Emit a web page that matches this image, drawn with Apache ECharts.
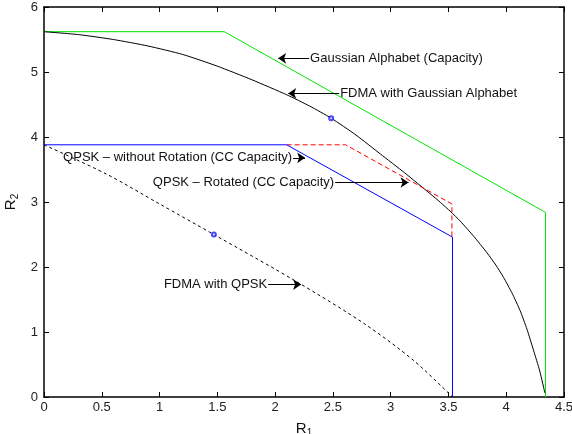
<!DOCTYPE html>
<html>
<head>
<meta charset="utf-8">
<script src="https://cdn.jsdelivr.net/npm/echarts@6/dist/echarts.min.js"></script>
<style>
  html, body { margin: 0; padding: 0; background: #fff; }
  #chart { width: 572px; height: 434px; }
</style>
</head>
<body>
<div id="chart"></div>
<script>
// Rate region boundaries, (R1, R2) pairs
const gaussianCapacity = [[0, 5.62], [1.56, 5.62], [4.34, 2.84], [4.34, 0]];
const fdmaGaussian = [
  [0, 5.62], [0.3, 5.575], [0.6, 5.50], [0.9, 5.40], [1.2, 5.27],
  [1.5, 5.09], [1.8, 4.88], [2.1, 4.65], [2.3, 4.475], [2.485, 4.29],
  [2.7, 4.03], [2.91, 3.74], [3.12, 3.45], [3.34, 3.13], [3.43, 2.995],
  [3.52, 2.85], [3.60, 2.71], [3.72, 2.47], [3.833, 2.22], [3.91, 2.03],
  [3.977, 1.84], [4.05, 1.60], [4.12, 1.33], [4.18, 1.04], [4.236, 0.72],
  [4.29, 0.40], [4.335, 0.06]
];
const qpskNoRotation = [[0, 3.88], [2.10, 3.88], [3.535, 2.46], [3.535, 0]];
const qpskRotated = [[2.10, 3.88], [2.61, 3.88], [3.53, 2.97], [3.53, 2.46]];
const fdmaQpsk = [
  [0, 3.88], [0.54, 3.43], [1.0, 2.97], [1.47, 2.50], [2.19, 1.77],
  [2.77, 1.13], [3.2, 0.56], [3.535, 0]
];
const highlighted = [[2.485, 4.29], [1.47, 2.50]];

// Axis ticks
const xTickLabels = ['0', '0.5', '1', '1.5', '2', '2.5', '3', '3.5', '4', '4.5'];
const yTickLabels = ['0', '1', '2', '3', '4', '5', '6'];

// Callout texts with arrow tail / head in data units
const calloutTexts = [
  'Gaussian Alphabet (Capacity)',
  'FDMA with Gaussian Alphabet',
  'QPSK \u2013 without Rotation (CC Capacity)',
  'QPSK \u2013 Rotated (CC Capacity)',
  'FDMA with QPSK'
];
const calloutTails = [[2.294, 5.21], [2.554, 4.67], [2.156, 3.68], [2.52, 3.30], [1.94, 1.73]];
const calloutHeads = [[2.026, 5.21], [2.113, 4.67], [2.26, 3.68], [3.155, 3.30], [2.225, 1.73]];

const FONT = '"Liberation Sans", Arial, Helvetica, sans-serif';

const chart = echarts.init(document.getElementById('chart'), null, { renderer: 'canvas' });

const frameLine = { show: true, onZero: false, lineStyle: { color: '#000', width: 1.5 } };
const tickStyle = { show: true, inside: true, length: 5, lineStyle: { color: '#000', width: 1 } };

const xLabelFmt = v => xTickLabels[Math.round(v / 0.5)] ?? '';
const yLabelFmt = v => yTickLabels[Math.round(v)] ?? '';

const nameRich = {
  r: { fontSize: 15, fontFamily: FONT, color: '#111', lineHeight: 18 },
  s: { fontSize: 10, fontFamily: FONT, color: '#111', lineHeight: 18, padding: [9, 0, 0, 0] }
};

const plain = (name, data, color, type, smooth) => ({
  name, type: 'line', data, showSymbol: false, symbol: 'none', smooth: smooth || false,
  lineStyle: { color, width: 1, type: type || 'solid' },
  silent: true, z: 3
});

const option = {
  animation: false,
  backgroundColor: '#fff',
  grid: { left: 44, right: 8, top: 7, bottom: 37, containLabel: false, outerBoundsMode: 'none' },
  xAxis: [
    {
      type: 'value', min: 0, max: 4.5, interval: 0.5, position: 'bottom',
      axisLine: frameLine, axisTick: tickStyle, splitLine: { show: false },
      axisLabel: { color: '#222', fontSize: 13, fontFamily: FONT, margin: 4, formatter: xLabelFmt },
      name: '{r|R}{s|1}', nameLocation: 'middle', nameGap: 20,
      nameTextStyle: { rich: nameRich }
    },
    {
      type: 'value', min: 0, max: 4.5, interval: 0.5, position: 'top',
      axisLine: frameLine, axisTick: tickStyle, splitLine: { show: false },
      axisLabel: { show: false }
    }
  ],
  yAxis: [
    {
      type: 'value', min: 0, max: 6, interval: 1, position: 'left',
      axisLine: frameLine, axisTick: tickStyle, splitLine: { show: false },
      axisLabel: { color: '#222', fontSize: 13, fontFamily: FONT, margin: 6, formatter: yLabelFmt },
      name: '{r|R}{s|2}', nameLocation: 'middle', nameGap: 18, nameRotate: 90,
      nameTextStyle: { rich: nameRich }
    },
    {
      type: 'value', min: 0, max: 6, interval: 1, position: 'right',
      axisLine: frameLine, axisTick: tickStyle, splitLine: { show: false },
      axisLabel: { show: false }
    }
  ],
  series: [
    plain('Gaussian Alphabet (Capacity)', gaussianCapacity, '#00e600'),
    plain('FDMA with Gaussian Alphabet', fdmaGaussian, '#000', 'solid', 0.2),
    plain('QPSK - Rotated (CC Capacity)', qpskRotated, '#ff0000', [5, 3]),
    plain('QPSK - without Rotation (CC Capacity)', qpskNoRotation, '#0000ff'),
    plain('FDMA with QPSK', fdmaQpsk, '#000', [3, 3], 0.3),
    {
      name: 'points', type: 'scatter', data: highlighted, symbol: 'emptyCircle', symbolSize: 4,
      itemStyle: { color: '#1a1aff', borderColor: '#1a1aff', borderWidth: 1.2 }, silent: true, z: 5
    },
    {
      name: 'callouts', type: 'line', data: [], silent: true, z: 6,
      markLine: {
        silent: true, animation: false,
        symbol: ['none', 'arrow'], symbolSize: 8,
        lineStyle: { color: '#000', width: 1, type: 'solid' },
        label: {
          show: true, position: 'start', distance: 1, formatter: '{b}',
          color: '#111', fontSize: 13, fontFamily: FONT
        },
        emphasis: { disabled: true },
        data: calloutTexts.map((t, i) => [
          { name: t, coord: calloutTails[i] },
          { name: t, coord: calloutHeads[i] }
        ])
      }
    }
  ]
};

chart.setOption(option);
</script>
</body>
</html>
